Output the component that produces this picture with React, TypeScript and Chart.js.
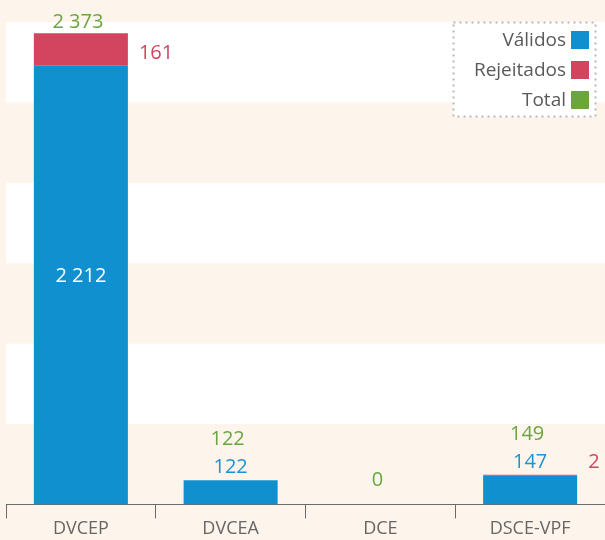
import React, { useEffect, useRef } from "react";
import { Chart, registerables } from "chart.js";

Chart.register(...registerables);

const categories = ["DVCEP", "DVCEA", "DCE", "DSCE-VPF"];
const validos = [2212, 122, 0, 147];
const rejeitados = [161, 0, 0, 2];
const totals = [2373, 122, 0, 149];
const seriesNames = ["Válidos", "Rejeitados", "Total"];
const yMax = 2430;
const yStep = 405;

const BLUE = "#1190cf";
const RED = "#d3445f";
const GREEN = "#6aa63a";
const BLUE_TXT = "#1a94d2";
const RED_TXT = "#d3445f";
const GREEN_TXT = "#6aa640";
const CREAM = "#fdf5eb";
const FONT = '"Open Sans", "Noto Sans", sans-serif';

const fmt = (n: number) => String(n).replace(/\B(?=(\d{3})+(?!\d))/g, " ");

const bandsPlugin = {
  id: "bands",
  beforeDraw(chart: any) {
    const { ctx, chartArea, width, height } = chart;
    const y = chart.scales.y;
    ctx.save();
    ctx.fillStyle = CREAM;
    ctx.fillRect(0, 0, width, height);
    const ticks = y.ticks.map((t: any) => t.value);
    ctx.fillStyle = "#ffffff";
    for (let i = 0; i < ticks.length - 1; i++) {
      if (i % 2 === 1) {
        const y0 = y.getPixelForValue(ticks[i]);
        const y1 = y.getPixelForValue(ticks[i + 1]);
        ctx.fillRect(chartArea.left, y1, chartArea.right - chartArea.left, y0 - y1);
      }
    }
    ctx.restore();
  },
};

const labelsPlugin = {
  id: "valueLabels",
  afterDatasetsDraw(chart: any) {
    const { ctx } = chart;
    const mV = chart.getDatasetMeta(0);
    const mR = chart.getDatasetMeta(1);
    const yS = chart.scales.y;
    ctx.save();
    ctx.font = `20px ${FONT}`;
    ctx.textBaseline = "middle";
    for (let i = 0; i < categories.length; i++) {
      const bv = mV.data[i].getProps(["x", "y", "base", "width"], true);
      const br = mR.data[i].getProps(["x", "y", "base", "width"], true);
      const v = validos[i];
      const r = rejeitados[i];
      const t = totals[i];
      const base = yS.getPixelForValue(0);
      const topT = yS.getPixelForValue(t);
      let blueY: number | null = null;
      let blueAbove = false;
      if (v > 0) {
        const h = bv.base - bv.y;
        ctx.textAlign = "center";
        if (h > 40) {
          ctx.fillStyle = "#ffffff";
          blueY = (bv.y + bv.base) / 2 - 9;
        } else {
          ctx.fillStyle = BLUE_TXT;
          blueY = bv.y - 12.5;
          blueAbove = true;
        }
        ctx.fillText(fmt(v), bv.x, blueY);
      }
      if (r > 0) {
        const h = br.base - br.y;
        const ry = h > 20 ? (br.y + br.base) / 2 + 4 : (blueY ?? br.y - 12);
        ctx.fillStyle = RED_TXT;
        ctx.textAlign = "left";
        ctx.fillText(fmt(r), br.x + br.width / 2 + 11, ry);
      }
      let gy: number;
      if (blueAbove && blueY !== null) gy = blueY - 28;
      else if (t > 0) gy = topT - 11;
      else gy = base - 24;
      ctx.fillStyle = GREEN_TXT;
      ctx.textAlign = "center";
      ctx.fillText(fmt(t), bv.x - 3, gy);
    }
    ctx.restore();
  },
};

const legendPlugin = {
  id: "boxLegend",
  afterDraw(chart: any) {
    const { ctx, chartArea } = chart;
    const right = chartArea.right - 9;
    const left = right - 143;
    const top = chartArea.top;
    const bottom = top + 95;
    ctx.save();
    ctx.fillStyle = "#ffffff";
    ctx.fillRect(left, top, right - left, bottom - top);
    ctx.strokeStyle = "#b8b8b8";
    ctx.lineWidth = 2;
    ctx.setLineDash([2, 4]);
    ctx.strokeRect(left + 0.5, top + 0.5, right - left - 1, bottom - top - 1);
    ctx.setLineDash([]);
    ctx.font = `19px ${FONT}`;
    ctx.textAlign = "right";
    ctx.textBaseline = "middle";
    chart.data.datasets.forEach((ds: any, i: number) => {
      const cy = top + 18 + i * 30;
      ctx.fillStyle = ds.legendColor;
      ctx.fillRect(right - 25, cy - 9, 18, 18);
      ctx.fillStyle = "#5a5a5a";
      ctx.fillText(ds.label, right - 30, cy + 1);
    });
    ctx.restore();
  },
};

export default function App() {
  const ref = useRef<HTMLCanvasElement | null>(null);
  useEffect(() => {
    if (!ref.current) return;
    const chart = new Chart(ref.current, {
      type: "bar",
      data: {
        labels: categories,
        datasets: [
          {
            label: seriesNames[0],
            data: validos,
            backgroundColor: BLUE,
            legendColor: BLUE,
            barPercentage: 0.628,
            categoryPercentage: 1,
            stack: "s",
          } as any,
          {
            label: seriesNames[1],
            data: rejeitados,
            backgroundColor: RED,
            legendColor: RED,
            barPercentage: 0.628,
            categoryPercentage: 1,
            stack: "s",
          } as any,
          {
            type: "line",
            label: seriesNames[2],
            data: totals,
            borderColor: GREEN,
            backgroundColor: GREEN,
            legendColor: GREEN,
            showLine: false,
            pointRadius: 0,
            stack: "t",
          } as any,
        ],
      },
      options: {
        animation: false,
        responsive: false,
        layout: { padding: { left: 6, right: 0, top: 22, bottom: 0 } },
        plugins: {
          legend: { display: false },
          tooltip: { enabled: false },
        },
        scales: {
          x: {
            stacked: true,
            offset: true,
            grid: {
              offset: true,
              drawOnChartArea: false,
              drawTicks: true,
              tickLength: 14,
              color: "#6b6b6b",
              lineWidth: 1,
            },
            border: { color: "#6b6b6b", width: 1 },
            ticks: {
              color: "#666666",
              font: { family: FONT, size: 18 },
              padding: 0,
              maxRotation: 0,
            },
          },
          y: {
            stacked: true,
            display: false,
            min: 0,
            max: yMax,
            ticks: { stepSize: yStep },
            grid: { display: false },
          },
        },
      },
      plugins: [bandsPlugin, labelsPlugin, legendPlugin],
    });
    return () => chart.destroy();
  }, []);
  return (
    <div style={{ position: "fixed", left: 0, top: 0, width: 605, height: 540 }}>
      <canvas ref={ref} width={605} height={540} style={{ display: "block" }} />
    </div>
  );
}
